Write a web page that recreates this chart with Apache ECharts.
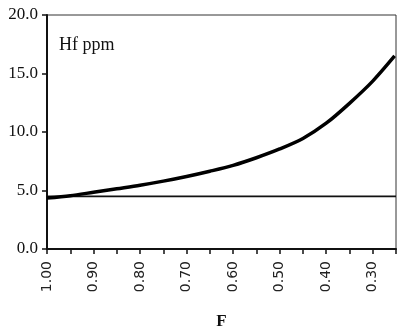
<!DOCTYPE html>
<html>
<head>
<meta charset="utf-8">
<script src="https://cdn.jsdelivr.net/npm/echarts@6/dist/echarts.min.js"></script>
<style>
  html, body { margin: 0; padding: 0; background: #fff; }
  #chart { width: 397px; height: 329px; }
</style>
</head>
<body>
<div id="chart"></div>
<script>
// Hf concentration in the melt versus melt fraction F
const fractionF = [1.00, 0.95, 0.90, 0.85, 0.80, 0.75, 0.70, 0.65, 0.60, 0.55, 0.50, 0.45, 0.40, 0.35, 0.30, 0.253];
const hfPpm     = [4.35, 4.55, 4.85, 5.15, 5.45, 5.80, 6.20, 6.65, 7.15, 7.80, 8.55, 9.45, 10.75, 12.45, 14.35, 16.50];

// Initial (source) level drawn as a flat reference line
const sourceF   = [1.00, 0.25];
const sourceHf  = [4.5, 4.5];

// Axis marks
const xLabelValues = [1.00, 0.90, 0.80, 0.70, 0.60, 0.50, 0.40, 0.30];
const xTickValues  = [1.00, 0.95, 0.90, 0.85, 0.80, 0.75, 0.70, 0.65, 0.60, 0.55, 0.50, 0.45, 0.40, 0.35, 0.30, 0.25];
const yTickLabels  = ['0.0', '5.0', '10.0', '15.0', '20.0'];

const chart = echarts.init(document.getElementById('chart'), null, { renderer: 'canvas' });

chart.setOption({
  animation: false,
  backgroundColor: '#ffffff',
  title: {
    text: 'Hf ppm',
    left: 54,
    top: 31,
    textStyle: { fontFamily: 'Liberation Serif', fontSize: 18, fontWeight: 'normal', color: '#111' }
  },
  grid: {
    left: 47, right: 1, top: 15, bottom: 80,
    containLabel: false,
    outerBoundsMode: 'none',
    show: true, borderColor: '#333', borderWidth: 1
  },
  xAxis: {
    type: 'value',
    inverse: true,
    min: 0.25,
    max: 1.0,
    name: 'F',
    nameLocation: 'middle',
    nameGap: 64,
    nameTextStyle: { fontFamily: 'Liberation Serif', fontSize: 17, fontWeight: 'bold', color: '#111' },
    axisLine: { show: true, lineStyle: { color: '#111', width: 2 } },
    axisTick: { show: true, inside: false, length: 5, customValues: xTickValues, lineStyle: { color: '#111', width: 1.5 } },
    axisLabel: {
      customValues: xLabelValues,
      rotate: 90,
      margin: 12,
      fontFamily: 'DejaVu Sans',
      fontSize: 14,
      color: '#222',
      formatter: v => v.toFixed(2)
    },
    splitLine: { show: false }
  },
  yAxis: {
    type: 'value',
    min: 0,
    max: 20,
    interval: 5,
    axisLine: { show: true, lineStyle: { color: '#111', width: 2 } },
    axisTick: { show: true, length: 5, lineStyle: { color: '#111', width: 1.5 } },
    axisLabel: {
      margin: 9,
      padding: [7, 0, 0, 0],
      fontFamily: 'Liberation Serif',
      fontSize: 17,
      color: '#111',
      formatter: v => yTickLabels[Math.round(v / 5)]
    },
    splitLine: { show: false }
  },
  series: [
    {
      type: 'line',
      data: sourceF.map((f, i) => [f, sourceHf[i]]),
      showSymbol: false,
      lineStyle: { color: '#111', width: 1.8 },
      z: 2
    },
    {
      type: 'line',
      data: fractionF.map((f, i) => [f, hfPpm[i]]),
      smooth: 0.3,
      showSymbol: false,
      lineStyle: { color: '#000', width: 3.5 },
      z: 3
    }
  ]
});
</script>
</body>
</html>
